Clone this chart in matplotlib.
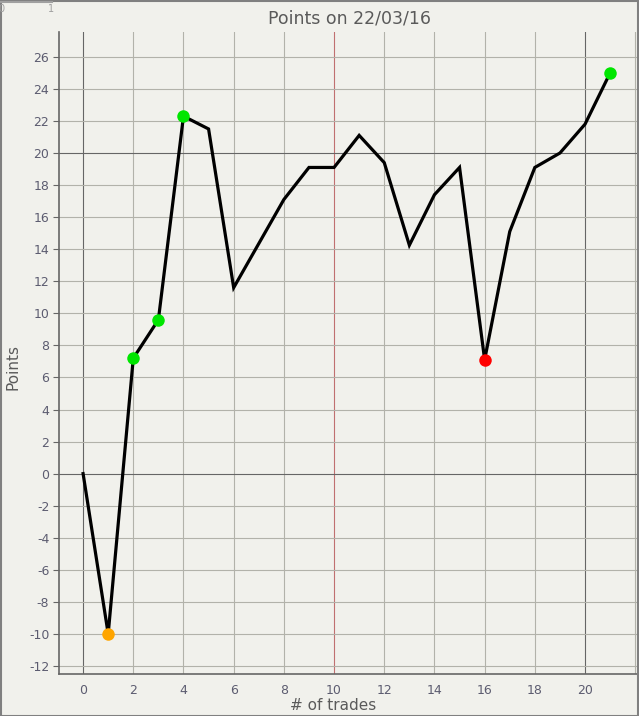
import matplotlib
matplotlib.use('Agg')
import matplotlib.pyplot as plt
from matplotlib.lines import Line2D
from matplotlib.patches import Rectangle

plt.rcParams['axes.unicode_minus'] = False

trades = list(range(22))
points = [0, -10, 7.2, 9.6, 22.3, 21.5, 11.6, 14.35, 17.1, 19.1, 19.1, 21.1,
          19.4, 14.25, 17.4, 19.1, 7.1, 15.1, 19.1, 20.0, 21.8, 25.0]
mark_idx = [1, 2, 3, 4, 16, 21]
mark_col = ['#ffa500', '#00e600', '#00e600', '#00e600', '#ff0000', '#00e600']

bg = '#f1f1ec'
txt = '#5a5a5a'
tick_col = '#5c5c70'

W, H = 639, 716
fig = plt.figure(figsize=(W / 100, H / 100), dpi=100, facecolor=bg)
ax = fig.add_axes([59 / W, (H - 674) / H, (W - 59) / W, (674 - 32) / H])
ax.set_facecolor(bg)

ax.set_xlim(-0.96, 22.15)
ax.set_ylim(-12.5, 27.55)
ax.set_xticks(range(0, 22, 2))
ax.set_yticks(range(-12, 27, 2))

# grid
for x in range(0, 23, 2):
    if x in (0, 20):
        c = '#666666'
    elif x == 10:
        c = '#c07070'
    else:
        c = '#b2b2aa'
    ax.axvline(x, color=c, lw=0.8, zorder=1)
for y in range(-12, 27, 2):
    c = '#666666' if y in (0, 20) else '#b2b2aa'
    ax.axhline(y, color=c, lw=0.8, zorder=1)

ax.plot(trades, points, color='black', lw=2.3, zorder=3, solid_joinstyle='miter')
for i, c in zip(mark_idx, mark_col):
    ax.plot(trades[i], points[i], 'o', color=c, ms=9, mec='none', zorder=4)

for s in ('top', 'right'):
    ax.spines[s].set_visible(False)
for s in ('left', 'bottom'):
    ax.spines[s].set_color('#666666')
    ax.spines[s].set_linewidth(1.2)

ax.tick_params(axis='y', length=4, width=0.8, color='#666666', labelcolor=tick_col, labelsize=9, pad=3)
ax.tick_params(axis='x', length=0, labelcolor=tick_col, labelsize=9, pad=7)

ax.set_title('Points on 22/03/16', color=txt, fontsize=12.5, pad=6)
ax.set_xlabel('# of trades', color=txt, fontsize=11)
ax.set_ylabel('Points', color=txt, fontsize=11)
ax.xaxis.label.set_va('center')
ax.xaxis.set_label_coords((333 - 59) / 580, -32 / 642)
ax.yaxis.label.set_va('center')
ax.yaxis.set_label_coords((13 - 59) / 580, (674 - 367) / 642)

# top-left leftover axis labels
fig.add_artist(Line2D([0, 52 / W], [1 - 2 / H, 1 - 2 / H], color='#a0a0a0', lw=1.5))
fig.text(1 / W, 1 - 9 / H, '0', color='#a0a0a0', fontsize=7, va='center', ha='center')
fig.text(51 / W, 1 - 9 / H, '1', color='#a0a0a0', fontsize=7, va='center', ha='center')

# figure frame
fig.add_artist(Rectangle((0.5 / W, 0.5 / H), 1 - 1.5 / W, 1 - 1.5 / H,
                         transform=fig.transFigure, fill=False, ec='#808080', lw=1.5))

fig.savefig('out.png', dpi=100, facecolor=bg)
